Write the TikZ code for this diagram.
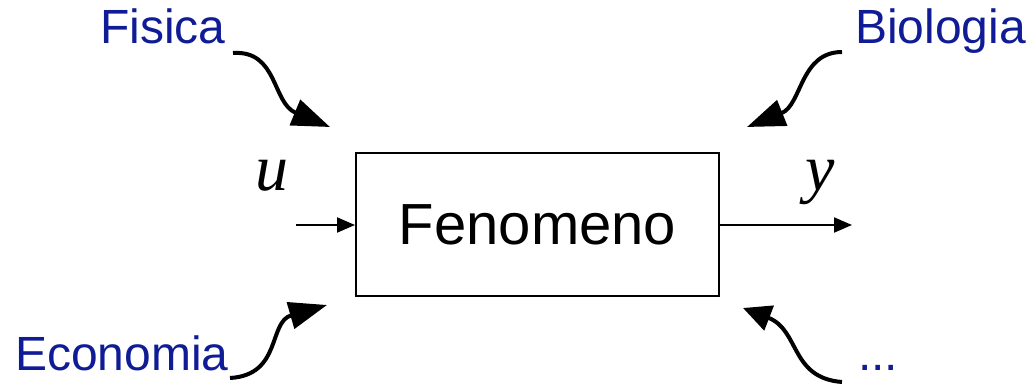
\documentclass[tikz,border=0pt]{standalone}
\usepackage{fontspec}
\setmainfont{Liberation Sans}
\newfontfamily\sigfont{Liberation Serif}
\usetikzlibrary{arrows.meta}
\definecolor{txtblue}{RGB}{16,28,150}
\tikzset{
  lbl/.style={font=\fontsize{48}{52}\selectfont, text=txtblue, inner sep=0, anchor=base west},
  sig/.style={font=\sigfont\itshape\fontsize{66}{70}\selectfont, inner sep=0, anchor=base west},
  curvy/.style={line width=4pt, -{Triangle[length=38pt,width=27pt]}},
  flow/.style={line width=2pt, -{Triangle[length=18pt,width=15pt]}},
  blockbox/.style={draw, line width=2pt, minimum width=363pt, minimum height=143pt, inner sep=0, font=\fontsize{58}{62}\selectfont}
}
\begin{document}
\begin{tikzpicture}[x=1pt,y=-1pt]
\useasboundingbox (0,0) rectangle (1030,385);
\node[blockbox] (box) at (537.5,224.5) {Fenomeno};
\node[lbl] (fis) at (100,44) {Fisica};
\node[lbl] (bio) at (855,44) {Biologia};
\node[lbl] (eco) at (15,370) {Economia};
\node[lbl] (dots) at (858,370) {...};
\node[sig] (u) at (255,190) {u};
\node[sig] (y) at (805,190) {y};
\coordinate (in) at (296,225);
\coordinate (out) at (852,225);
\draw[flow] (in) -- (box.west |- in);
\draw[flow] (box.east |- out) -- (out);
\coordinate (f0) at (233,53);
\coordinate (f1) at (330,127);
\coordinate (b0) at (842,52);
\coordinate (b1) at (747,127);
\coordinate (e0) at (230,378);
\coordinate (e1) at (327,305);
\coordinate (d0) at (842,382);
\coordinate (d1) at (743,308);
\draw[curvy] (f0) .. controls (278,50) and (272,103) .. (f1);
\draw[curvy] (b0) .. controls (800,52) and (802,105) .. (b1);
\draw[curvy] (e0) .. controls (282,375) and (268,322) .. (e1);
\draw[line width=4pt, -{Triangle[length=28pt,width=26pt]}] (d0) .. controls (790,378) and (800,330) .. (d1);
\end{tikzpicture}
\end{document}
